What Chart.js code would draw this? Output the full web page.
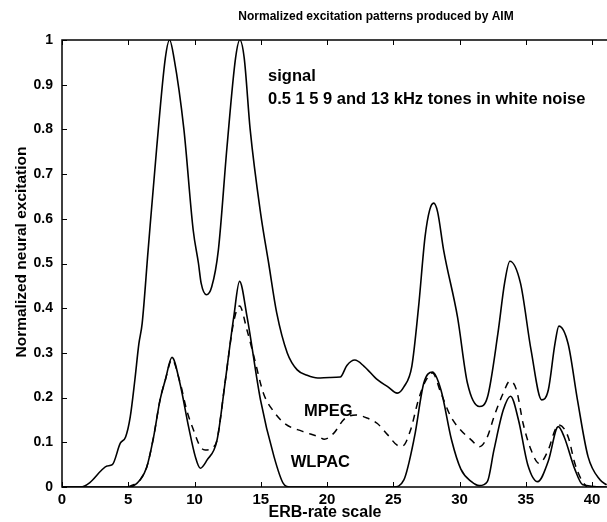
<!DOCTYPE html>
<html>
<head>
<meta charset="utf-8">
<script src="https://cdn.jsdelivr.net/npm/chart.js@4.4.1/dist/chart.umd.min.js"></script>
<style>
  html, body { margin: 0; padding: 0; background: #fff; }
  #wrap { width: 607px; height: 522px; }
</style>
</head>
<body>
<div id="wrap"><canvas id="aimChart" width="607" height="522"></canvas></div>
<script>
// ERB-rate positions and normalized excitation
const aimX = [0, 1.4, 2.1, 3.0, 3.4, 3.8, 4.4, 4.8, 5.15, 5.5, 5.8, 6.05, 6.5, 7.15, 7.8, 8.12, 8.45, 9.2, 9.9, 10.3, 10.5, 10.9, 11.3, 11.8, 12.45, 13.1, 13.42, 13.75, 14.2, 15.0, 15.6, 16.2, 17.0, 17.75, 18.5, 19.3, 20.2, 21.0, 21.5, 22.1, 22.8, 23.8, 24.6, 25.3, 25.8, 26.4, 26.9, 27.4, 27.75, 28.05, 28.35, 28.8, 29.85, 30.6, 31.5, 32.1, 32.9, 33.4, 33.8, 34.6, 35.4, 36.2, 36.7, 37.2, 37.5, 38.2, 38.9, 39.7, 40.6, 41.1];
const aimY = [0, 0, 0.01, 0.038, 0.047, 0.05, 0.098, 0.112, 0.157, 0.24, 0.32, 0.366, 0.53, 0.76, 0.96, 1.0, 0.96, 0.8, 0.575, 0.5, 0.456, 0.43, 0.448, 0.53, 0.76, 0.96, 1.0, 0.96, 0.8, 0.61, 0.5, 0.39, 0.3, 0.262, 0.25, 0.244, 0.245, 0.246, 0.272, 0.284, 0.27, 0.24, 0.224, 0.21, 0.224, 0.27, 0.40, 0.56, 0.62, 0.635, 0.615, 0.53, 0.38, 0.232, 0.18, 0.2, 0.344, 0.456, 0.505, 0.456, 0.306, 0.195, 0.217, 0.32, 0.36, 0.32, 0.195, 0.068, 0.016, 0.005];

const wlpacX = [0, 5.1, 5.9, 6.4, 6.9, 7.4, 7.8, 8.3, 8.9, 9.55, 10.06, 10.44, 10.94, 11.7, 12.3, 12.96, 13.4, 13.97, 14.98, 16.0, 16.7, 17.2, 25.0, 25.8, 26.6, 27.3, 27.96, 28.6, 29.4, 30.1, 30.9, 31.5, 32.1, 32.6, 33.3, 33.85, 34.45, 35.15, 35.9, 36.7, 37.45, 37.9, 38.7, 39.3, 41.1];
const wlpacY = [0, 0, 0.016, 0.045, 0.11, 0.195, 0.24, 0.29, 0.232, 0.135, 0.068, 0.042, 0.06, 0.105, 0.232, 0.38, 0.46, 0.38, 0.195, 0.068, 0.008, 0, 0, 0.016, 0.112, 0.232, 0.257, 0.217, 0.105, 0.04, 0.012, 0.003, 0.012, 0.083, 0.172, 0.203, 0.15, 0.05, 0.012, 0.058, 0.135, 0.112, 0.04, 0.005, 0];

const mpegX = [5.0, 5.9, 6.4, 6.9, 7.4, 7.8, 8.3, 8.9, 9.43, 9.93, 10.44, 10.8, 11.45, 11.7, 12.3, 12.96, 13.4, 13.97, 14.5, 15.2, 16.0, 16.9, 18.1, 19.4, 19.8, 20.5, 21.3, 22.2, 23.05, 23.8, 24.6, 25.45, 25.7, 26.3, 26.9, 27.4, 27.96, 28.6, 29.35, 30.1, 30.9, 31.5, 32.1, 32.6, 33.3, 33.8, 34.3, 34.8, 35.4, 36.0, 36.7, 37.2, 37.5, 38.2, 38.7, 39.2, 39.6];
const mpegY = [0, 0.016, 0.045, 0.11, 0.195, 0.24, 0.285, 0.235, 0.17, 0.127, 0.09, 0.083, 0.09, 0.105, 0.232, 0.37, 0.405, 0.35, 0.29, 0.21, 0.168, 0.14, 0.125, 0.112, 0.107, 0.12, 0.152, 0.161, 0.154, 0.142, 0.116, 0.092, 0.092, 0.127, 0.195, 0.235, 0.255, 0.21, 0.157, 0.127, 0.105, 0.09, 0.112, 0.157, 0.21, 0.237, 0.217, 0.142, 0.083, 0.053, 0.083, 0.127, 0.139, 0.112, 0.053, 0.016, 0];

const xTicks = [0, 5, 10, 15, 20, 25, 30, 35, 40];
const yTicks = [0, 0.1, 0.2, 0.3, 0.4, 0.5, 0.6, 0.7, 0.8, 0.9, 1];

const titleText = 'Normalized excitation patterns produced by AIM';
const xTitle = 'ERB-rate scale';
const yTitle = 'Normalized neural excitation';
const signalLines = ['signal', '0.5 1 5 9 and 13 kHz tones in white noise'];
const curveLabels = [
  { text: 'MPEG', x: 20.1, y: 0.168 },
  { text: 'WLPAC', x: 19.5, y: 0.056 }
];

const FONT = '"Liberation Sans", Arial, Helvetica, sans-serif';

const toPoints = (xs, ys) => xs.map((x, i) => ({ x: x, y: ys[i] }));

// box, inward ticks and text labels (matlab look)
const framePlugin = {
  id: 'frame',
  afterDraw(chart) {
    const { ctx, chartArea: a, scales } = chart;
    const xs = scales.x;
    const ys = scales.y;
    ctx.save();
    ctx.strokeStyle = '#000';
    ctx.lineWidth = 1.5;
    ctx.beginPath();
    ctx.moveTo(a.right, a.top);
    ctx.lineTo(a.left, a.top);
    ctx.lineTo(a.left, a.bottom);
    ctx.lineTo(a.right, a.bottom);
    ctx.stroke();

    ctx.lineWidth = 1;
    ctx.beginPath();
    xTicks.forEach((v) => {
      const px = Math.round(xs.getPixelForValue(v)) + 0.5;
      ctx.moveTo(px, a.bottom);
      ctx.lineTo(px, a.bottom - 5);
      ctx.moveTo(px, a.top);
      ctx.lineTo(px, a.top + 5);
    });
    yTicks.forEach((v) => {
      const py = Math.round(ys.getPixelForValue(v)) + 0.5;
      ctx.moveTo(a.left, py);
      ctx.lineTo(a.left + 5, py);
    });
    ctx.stroke();

    ctx.fillStyle = '#000';
    ctx.textBaseline = 'middle';
    ctx.textAlign = 'center';
    ctx.font = 'bold 12px ' + FONT;
    ctx.fillText(titleText, 376, 17);

    ctx.font = 'bold 16px ' + FONT;
    ctx.fillText(xTitle, 325, 513);

    ctx.save();
    ctx.translate(22, 252);
    ctx.rotate(-Math.PI / 2);
    ctx.font = 'bold 15.5px ' + FONT;
    ctx.fillText(yTitle, 0, 0);
    ctx.restore();

    ctx.textAlign = 'left';
    ctx.font = 'bold 16.5px ' + FONT;
    const sx = xs.getPixelForValue(15.55);
    ctx.fillText(signalLines[0], sx, ys.getPixelForValue(0.918));
    ctx.fillText(signalLines[1], sx, ys.getPixelForValue(0.868));

    ctx.textAlign = 'center';
    curveLabels.forEach((l) => {
      ctx.fillText(l.text, xs.getPixelForValue(l.x), ys.getPixelForValue(l.y));
    });
    ctx.restore();
  }
};

const ctx = document.getElementById('aimChart').getContext('2d');

const config = {
  type: 'line',
  data: {
    datasets: [
      {
        label: 'AIM signal',
        data: toPoints(aimX, aimY),
        borderColor: '#000',
        borderWidth: 1.6,
        pointRadius: 0,
        cubicInterpolationMode: 'monotone',
        fill: false
      },
      {
        label: 'WLPAC',
        data: toPoints(wlpacX, wlpacY),
        borderColor: '#000',
        borderWidth: 1.6,
        pointRadius: 0,
        cubicInterpolationMode: 'monotone',
        fill: false
      },
      {
        label: 'MPEG',
        data: toPoints(mpegX, mpegY),
        borderColor: '#000',
        borderWidth: 1.5,
        borderDash: [7, 6],
        pointRadius: 0,
        cubicInterpolationMode: 'monotone',
        fill: false
      }
    ]
  },
  options: {
    responsive: false,
    animation: false,
    layout: { padding: { top: 40, right: 0, bottom: 0, left: 0 } },
    scales: {
      x: {
        type: 'linear',
        min: 0,
        max: 41.13,
        grid: { display: false, drawTicks: false },
        border: { display: false },
        afterBuildTicks: (scale) => { scale.ticks = xTicks.map((v) => ({ value: v })); },
        afterFit: (scale) => { scale.height = 35; },
        ticks: {
          color: '#000',
          padding: 4,
          maxRotation: 0,
          font: { family: FONT, size: 15, weight: 'bold' }
        }
      },
      y: {
        min: 0,
        max: 1,
        grid: { display: false, drawTicks: false },
        border: { display: false },
        afterBuildTicks: (scale) => { scale.ticks = yTicks.map((v) => ({ value: v })); },
        afterFit: (scale) => { scale.width = 62; },
        ticks: {
          color: '#000',
          padding: 9,
          callback: (v) => String(+Number(v).toFixed(1)),
          font: { family: FONT, size: 14, weight: 'bold' }
        }
      }
    },
    plugins: {
      legend: { display: false },
      tooltip: { enabled: false }
    }
  },
  plugins: [framePlugin]
};

new Chart(ctx, config);
</script>
</body>
</html>
